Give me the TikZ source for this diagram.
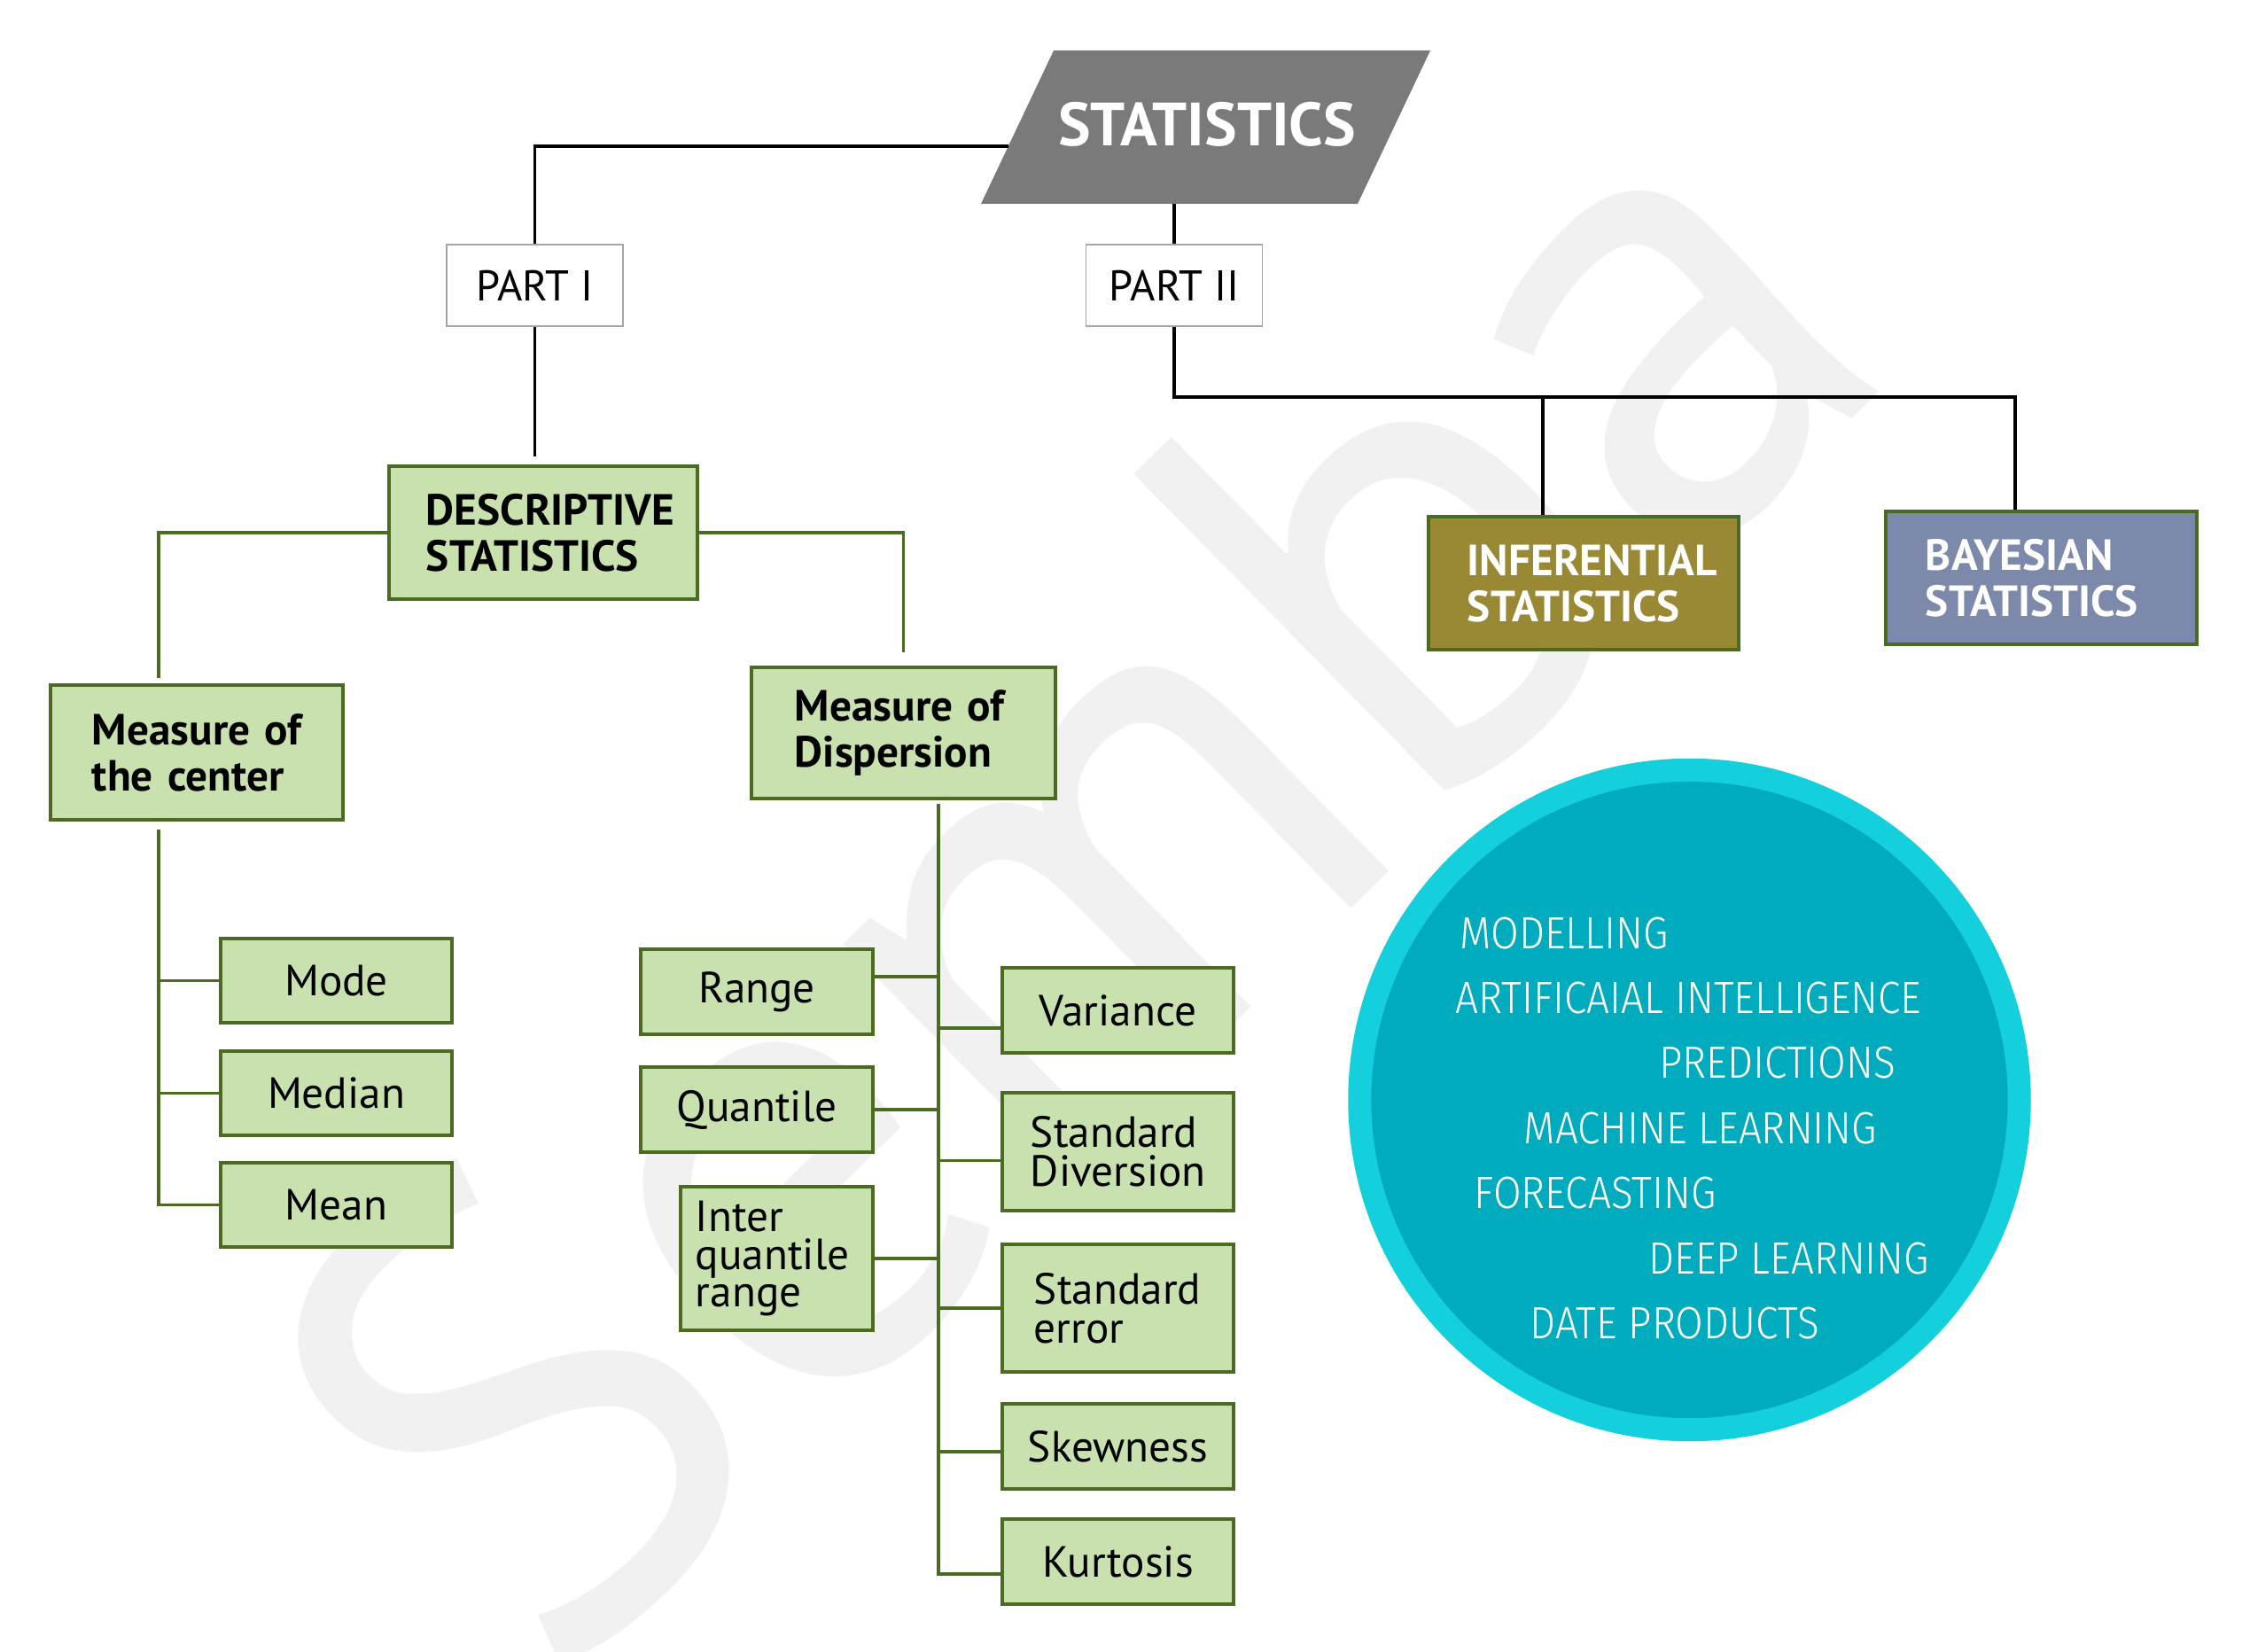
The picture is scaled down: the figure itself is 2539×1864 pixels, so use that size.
\documentclass[tikz,border=0pt]{standalone}
\usepackage{fontspec}
\setmainfont{PT Sans}
\newfontfamily\lightfont{Fira Sans Light}[FakeStretch=0.9]
\usepackage{tikz}
\usepackage{xcolor}

\definecolor{boxgreen}{HTML}{4B6A22}
\definecolor{boxfill}{HTML}{C8E1AE}
\definecolor{infcol}{HTML}{998934}
\definecolor{baycol}{HTML}{7D89AB}
\definecolor{statgray}{HTML}{7A7A7A}
\definecolor{ringcol}{HTML}{14D0DC}
\definecolor{discol}{HTML}{00ABBE}
\definecolor{markgray}{HTML}{F1F1F1}

\begin{document}
\begin{tikzpicture}[x=0.01cm, y=-0.01cm,
	bline/.style={draw=black, line width=1.1pt},
	gline/.style={draw=boxgreen, line width=0.9pt},
	partbox/.style={draw=gray!70, line width=0.4pt, fill=white, minimum width=1.99cm, minimum height=0.92cm, inner sep=0pt, font=\fontsize{13.8}{16}\selectfont},
	gbox/.style={draw=boxgreen, fill=boxfill, line width=1.1pt, inner sep=0pt, font=\fontsize{14}{12.5}\selectfont},
	headbox/.style={gbox, align=left, font=\bfseries\fontsize{14}{14.8}\selectfont},
	leaf/.style={gbox, minimum width=2.61cm, minimum height=0.95cm},
	itext/.style={anchor=base west, inner sep=0pt, text=white, font=\lightfont\fontsize{14.5}{14.5}\selectfont}]

		\useasboundingbox (0,0) rectangle (2539,1864);

		% watermark
		\begin{scope}
		\clip (0,0) rectangle (2539,1864);
		\node[anchor=base west, inner sep=0pt, rotate=44.5, text=markgray, font=\fontsize{212}{212}\selectfont] (mark) at (620,1915) {Semba};
		\end{scope}

		% top of the tree
		\fill[statgray] (1107,230) -- (1189,57) -- (1614,57) -- (1532,230) -- cycle;
		\node[text=white, font=\bfseries\fontsize{19.6}{24}\selectfont] (stat) at (1362,140) {STATISTICS};
		\coordinate (statl) at (1138,165);
		\coordinate (statb) at (1325,230);

		\node[partbox] (part1) at (603.5,322) {PART I};
		\node[partbox] (part2) at (1325,322) {PART II};

		\node[headbox, text width=2.64cm, inner xsep=0.42cm, minimum height=1.5cm] (desc) at (613,601) {DESCRIPTIVE\\STATISTICS};
		\node[headbox, fill=infcol, text=white, text width=2.62cm, inner xsep=0.44cm, minimum height=1.5cm] (infer) at (1787,658) {INFERENTIAL\\STATISTICS};
		\node[headbox, fill=baycol, text=white, text width=2.61cm, inner xsep=0.45cm, minimum height=1.5cm] (bayes) at (2303.5,652) {BAYESIAN\\STATISTICS};

		\node[headbox, text width=2.36cm, inner xsep=0.47cm, minimum height=1.52cm] (center) at (222,849) {Measure~of\\the~center};
		\node[headbox, text width=2.45cm, inner xsep=0.49cm, minimum height=1.48cm] (disp) at (1019.5,827) {Measure~of\\Dispersion};

		% measure of the center
		\node[leaf] (mode) at (379.5,1106.5) {Mode};
		\node[leaf] (median) at (379.5,1233.5) {Median};
		\node[leaf] (mean) at (379.5,1359.5) {Mean};

		% measure of dispersion
		\node[leaf, minimum width=2.62cm, minimum height=0.96cm] (range) at (854,1119) {Range};
		\node[leaf, minimum width=2.62cm, minimum height=0.96cm] (quant) at (854,1252) {Quantile};
		\node[gbox, align=left, text width=1.83cm, inner xsep=0.17cm, minimum height=1.62cm, font=\fontsize{14}{12}\selectfont] (iqr) at (876.5,1420) {Inter\\quantile\\range};

		\node[leaf, minimum height=0.96cm] (var) at (1261.5,1140) {Variance};
		\node[gbox, align=left, text width=1.97cm, inner xsep=0.32cm, minimum height=1.33cm] (sdiv) at (1261.5,1299.5) {Standard\\Diversion};
		\node[gbox, align=left, text width=1.89cm, inner xsep=0.36cm, minimum height=1.44cm] (serr) at (1261.5,1476) {Standard\\error};
		\node[leaf, minimum height=0.96cm] (skew) at (1261.5,1632) {Skewness};
		\node[leaf, minimum height=0.96cm] (kurt) at (1261.5,1762) {Kurtosis};

		% black connectors
		\coordinate (split) at (1741,448);
		\coordinate (bayestop) at (2274,448);
		\draw[bline] (part1.north) |- (statl);
		\draw[bline] (statb) to (part2.north);
		\draw[bline, shorten >=0.09cm] (part1.south) to (part1.south |- desc.north);
		\draw[bline] (part2.south) |- (bayestop) to (bayestop |- bayes.north);
		\draw[bline] (split) to (split |- infer.north);

		% green connectors
		\coordinate (cspine) at (179,936);
		\coordinate (dspine) at (1059,907);
		\draw[gline, shorten >=0.06cm] (desc.west) -| (cspine |- center.north);
		\draw[gline, shorten >=0.15cm] (desc.east) -| (disp.north);

		\draw[gline] (cspine) |- (mean.west);
		\draw[gline] (mode.west) -| (cspine);
		\draw[gline] (median.west) -| (cspine);

		\draw[gline] (dspine) |- ([yshift=-0.14cm]kurt.west);
		\draw[gline] ([yshift=0.17cm]range.east) -| (dspine);
		\draw[gline] (quant.east) -| (dspine);
		\draw[gline] (iqr.east) -| (dspine);
		\draw[gline] ([yshift=-0.2cm]var.west) -| (dspine);
		\draw[gline] ([yshift=-0.1cm]sdiv.west) -| (dspine);
		\draw[gline] (serr.west) -| (dspine);
		\draw[gline] ([yshift=-0.06cm]skew.west) -| (dspine);

		% fields circle
		\node[circle, fill=discol, draw=ringcol, line width=0.26cm, minimum size=7.44cm, inner sep=0pt] (ml) at (1906.5,1241) {};
		\node[itext] (t1) at (1647,1070) {MODELLING};
		\node[itext] (t2) at (1642,1143) {ARTIFICAIAL INTELLIGENCE};
		\node[itext] (t3) at (1872,1216) {PREDICTIONS};
		\node[itext] (t4) at (1719,1290) {MACHINE LEARNING};
		\node[itext] (t5) at (1663,1363) {FORECASTING};
		\node[itext] (t6) at (1860,1437) {DEEP LEARNING};
		\node[itext] (t7) at (1726,1510) {DATE PRODUCTS};

	\end{tikzpicture}
\end{document}
